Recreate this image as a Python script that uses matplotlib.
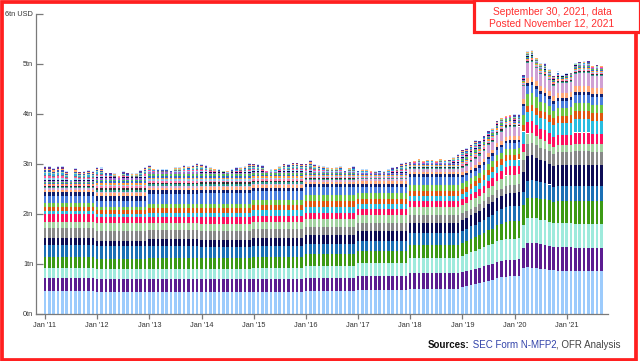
import numpy as np
import matplotlib
matplotlib.use("Agg")
import matplotlib.pyplot as plt
from matplotlib.patches import Rectangle

# ---------------- data (trillions USD, month-end, Jan 2011 .. Sep 2021) ----------------
year_labels = ["Jan '11", "Jan '12", "Jan '13", "Jan '14", "Jan '15", "Jan '16",
               "Jan '17", "Jan '18", "Jan '19", "Jan '20", "Jan '21"]

total = [2.97, 2.97, 2.93, 2.97, 2.97, 2.86, 2.69, 2.93, 2.85, 2.86, 2.89, 2.86,
         2.94, 2.93, 2.83, 2.83, 2.81, 2.76, 2.85, 2.83, 2.81, 2.81, 2.88, 2.95,
         2.97, 2.91, 2.89, 2.89, 2.89, 2.86, 2.93, 2.94, 2.97, 2.96, 2.97, 3.01,
         3.00, 2.98, 2.94, 2.91, 2.89, 2.87, 2.86, 2.89, 2.93, 2.94, 2.96, 3.03,
         3.01, 3.00, 2.97, 2.87, 2.89, 2.91, 2.96, 3.01, 3.00, 3.03, 3.03, 3.01,
         3.01, 3.08, 3.00, 2.98, 2.96, 2.94, 2.93, 2.94, 2.96, 2.86, 2.93, 2.95,
         2.87, 2.89, 2.89, 2.86, 2.85, 2.87, 2.85, 2.89, 2.93, 2.95, 3.03, 3.04,
         3.05, 3.06, 3.11, 3.06, 3.09, 3.09, 3.06, 3.11, 3.09, 3.08, 3.14, 3.19,
         3.29, 3.31, 3.39, 3.47, 3.46, 3.57, 3.66, 3.71, 3.86, 3.93, 3.96, 3.98,
         3.99, 3.99, 4.79, 5.26, 5.28, 5.13, 5.01, 5.01, 4.89, 4.76, 4.85, 4.77,
         4.81, 4.83, 5.01, 5.04, 5.05, 5.06, 4.96, 4.98, 4.96]

# yearly levels 2011-2018, then monthly 2019, 2020, 2021
lb_y = [.46, .45, .45, .45, .45, .46, .48, .51]
lb_19 = [.54, .56, .58, .60, .62, .65, .67, .69, .72, .74, .75, .76]
lb_20 = [.76, .77, .92, .94, .93, .92, .91, .90, .89, .88, .87, .87]
lb_21 = [.87, .87, .86, .86, .86, .86, .86, .86, .86]

pu_y = [.27, .25, .26, .26, .26, .26, .28, .32]
pu_19 = [.31, .31, .31, .31, .31, .31, .32, .32, .33, .33, .33, .33]
pu_20 = [.33, .33, .40, .48, .50, .50, .49, .49, .48, .47, .47, .47]
pu_21 = [.47, .47, .47, .47, .47, .47, .47, .47, .47]

aq_y = [.20, .20, .20, .20, .22, .25, .26, .30]
aq_19 = [.32, .33, .35, .36, .37, .39, .40, .40, .41, .41, .42, .42]
aq_20 = [.42, .42, .46, .50, .50, .50, .49, .49, .48, .47, .48, .48]
aq_21 = [.48, .48, .48, .48, .48, .48, .48, .48, .48]

gr_y = [.21, .20, .21, .22, .22, .24, .24, .26]
gr_19 = [.26, .26, .27, .27, .28, .28, .29, .30, .32, .33, .34, .35]
gr_20 = [.35, .35, .40, .40, .40, .41, .42, .43, .43, .43, .44, .44]
gr_21 = [.44, .44, .45, .45, .45, .45, .45, .45, .45]

bl_y = [.24, .27, .24, .21, .22, .20, .21, .24]
bl_19 = [.24, .24, .25, .25, .26, .26, .27, .28, .29, .29, .30, .30]
bl_20 = [.30, .30, .27, .35, .36, .34, .33, .32, .31, .30, .30, .30]
bl_21 = [.30, .30, .30, .30, .30, .30, .30, .30, .30]

nv_y = [.14, .10, .14, .15, .16, .18, .19, .20]
nv_19 = [.21, .22, .22, .23, .23, .24, .25, .25, .26, .26, .27, .27]
nv_20 = [.27, .27, .40, .50, .50, .46, .44, .43, .42, .41, .42, .42]
nv_21 = [.42, .42, .43, .43, .43, .43, .42, .42, .42]

gy_y = [.20, .20, .18, .18, .17, .15, .16, .15]
gy_19 = [.14, .14, .13, .13, .13, .13, .14, .14, .15, .15, .16, .16]
gy_20 = [.16, .16, .23, .24, .24, .25, .25, .25, .25, .25, .26, .26]
gy_21 = [.26, .26, .27, .27, .27, .27, .27, .27, .27]

lg_y = [.13, .15, .14, .14, .15, .17, .16, .16]
lg_19 = [.16, .16, .17, .17, .17, .17, .18, .18, .19, .19, .20, .20]
lg_20 = [.20, .20, .17, .20, .20, .18, .17, .16, .15, .14, .14, .14]
lg_21 = [.14, .14, .15, .15, .15, .15, .15, .15, .15]

pk_y = [.16, .12, .13, .13, .12, .11, .12, .12]
pk_19 = [.12, .12, .12, .13, .13, .13, .14, .15, .16, .16, .17, .17]
pk_20 = [.17, .17, .16, .23, .23, .22, .21, .21, .21, .20, .21, .21]
pk_21 = [.21, .21, .22, .22, .22, .22, .21, .21, .21]

cy_y = [.05, .06, .08, .09, .11, .12, .10, .10]
cy_19 = [.10, .10, .11, .11, .12, .12, .12, .12, .12, .12, .12, .12]
cy_20 = [.12, .12, .24, .20, .20, .21, .21, .22, .22, .22, .23, .23]
cy_21 = [.23, .24, .26, .26, .26, .26, .25, .25, .25]

or_y = [.08, .08, .09, .10, .11, .12, .10, .10]
or_19 = [.10, .10, .10, .10, .10, .10, .10, .10, .11, .11, .11, .11]
or_20 = [.11, .11, .13, .13, .13, .14, .14, .14, .14, .14, .15, .15]
or_21 = [.15, .15, .17, .17, .17, .17, .17, .17, .17]

g2_y = [.09, .07, .08, .08, .10, .12, .12, .12]
g2_19 = [.11, .11, .11, .11, .11, .11, .11, .12, .12, .12, .12, .12]
g2_20 = [.12, .12, .20, .24, .24, .21, .19, .18, .17, .16, .16, .16]
g2_21 = [.16, .16, .17, .17, .17, .17, .16, .16, .16]

b2_y = [.13, .12, .20, .22, .18, .16, .13, .15]
b2_19 = [.13, .12, .11, .10, .10, .10, .10, .11, .11, .12, .12, .12]
b2_20 = [.12, .12, .17, .16, .16, .16, .15, .15, .15, .14, .14, .14]
b2_21 = [.14, .14, .16, .16, .16, .16, .15, .15, .15]

n2_y = [.08, .10, .08, .06, .06, .06, .06, .06]
n2_19 = [.05, .05, .05, .05, .05, .05, .05, .05, .05, .05, .05, .05]
n2_20 = [.05, .05, .06, .06, .06, .06, .06, .06, .06, .06, .06, .06]
n2_21 = [.06, .06, .06, .06, .06, .06, .06, .06, .06]

pe_y = [.05, .05, .05, .05, .05, .05, .05, .05]
pe_19 = [.05, .05, .06, .06, .06, .07, .07, .07, .08, .08, .08, .08]
pe_20 = [.08, .08, .09, .10, .10, .10, .10, .10, .10, .10, .10, .10]
pe_21 = [.10, .10, .12, .12, .12, .12, .12, .12, .12]

li_y = [.03, .03, .03, .03, .03, .03, .04, .06]
li_19 = [.08, .09, .10, .12, .13, .15, .16, .16, .17, .18, .18, .18]
li_20 = [.18, .18, .26, .30, .30, .26, .24, .24, .22, .20, .20, .20]
li_21 = [.20, .20, .24, .25, .25, .25, .24, .24, .24]

# many small issuers at the top (level per year 2011..2021, each)
minor_each_by_year = [.017, .034, .034, .032, .029, .019, .015, .015, .025, .015, .020]
months_in_year = [12] * 10 + [9]

main_colors = ["#9ccbfc", "#5b1d91", "#9eeadc", "#3c9a15", "#1b70b5", "#0d0d55",
               "#888888", "#a3d3a0", "#ff1060", "#29bde0", "#e0560f", "#6cc644",
               "#4a7fde", "#102070", "#ffa878", "#cfa0d4"]
minor_colors = ["#2a9d8f", "#333333", "#ff77aa", "#88ccee", "#ff9933",
                "#3366cc", "#55bb55", "#9966cc"]
# remaining funds are drawn as thin multicoloured stripes, like the source
other_colors = ["#0d0d55", "#88ccee", "#ff5599", "#777777", "#33aadd",
                "#9fd39f", "#3355bb", "#ffaa66", "#663399", "#bbddff"]


def build(yearly, m19, m20, m21):
    out = []
    for v in yearly:
        out += [v] * 12
    return out + m19 + m20 + m21


main_series = [
    build(lb_y, lb_19, lb_20, lb_21), build(pu_y, pu_19, pu_20, pu_21),
    build(aq_y, aq_19, aq_20, aq_21), build(gr_y, gr_19, gr_20, gr_21),
    build(bl_y, bl_19, bl_20, bl_21), build(nv_y, nv_19, nv_20, nv_21),
    build(gy_y, gy_19, gy_20, gy_21), build(lg_y, lg_19, lg_20, lg_21),
    build(pk_y, pk_19, pk_20, pk_21), build(cy_y, cy_19, cy_20, cy_21),
    build(or_y, or_19, or_20, or_21), build(g2_y, g2_19, g2_20, g2_21),
    build(b2_y, b2_19, b2_20, b2_21), build(n2_y, n2_19, n2_20, n2_21),
    build(pe_y, pe_19, pe_20, pe_21), build(li_y, li_19, li_20, li_21),
]
minor = []
for v, n in zip(minor_each_by_year, months_in_year):
    minor += [v] * n

n_months = len(total)
x = np.arange(n_months)

# ---------------- figure ----------------
W, H = 640, 361
fig = plt.figure(figsize=(W / 100, H / 100), dpi=100)
fig.patch.set_facecolor("white")


def fx(px):
    return px / W


def fy(py):
    return 1 - py / H


ax = fig.add_axes([fx(36), fy(314), fx(608) - fx(36), fy(14) - fy(314)])
ax.set_xlim(-2.07, 129.5)
ax.set_ylim(0, 6)

bottom = np.zeros(n_months)
bw = 0.6
for vals, c in zip(main_series, main_colors):
    v = np.array(vals)
    ax.bar(x, v, bottom=bottom, width=bw, color=c, linewidth=0)
    bottom += v
for c in minor_colors:
    v = np.array(minor)
    ax.bar(x, v, bottom=bottom, width=bw, color=c, linewidth=0)
    bottom += v
other = np.clip(np.array(total) - bottom, 0, None)
k = len(other_colors)
for c in other_colors:
    ax.bar(x, other / k, bottom=bottom, width=bw, color=c, linewidth=0)
    bottom += other / k

for s in ["top", "right"]:
    ax.spines[s].set_visible(False)
for s in ["left", "bottom"]:
    ax.spines[s].set_color("#7a7a7a")
    ax.spines[s].set_linewidth(0.9)

ax.set_yticks(range(7))
ax.set_yticklabels(["0tn", "1tn", "2tn", "3tn", "4tn", "5tn", "6tn USD"])
ax.set_xticks(np.arange(0, 121, 12))
ax.set_xticklabels(year_labels)
ax.tick_params(axis="y", direction="in", length=5, width=0.9, color="#7a7a7a",
               labelsize=5.3, labelcolor="#333333", pad=2)
ax.tick_params(axis="x", direction="out", length=3.5, width=0.9, color="#7a7a7a",
               labelsize=5.3, labelcolor="#333333", pad=2)
for lab in ax.get_xticklabels() + ax.get_yticklabels():
    lab.set_fontfamily("Liberation Sans")

# red frame around the whole picture
fig.patches.append(Rectangle((fx(1.8), fy(359.8)), fx(636) - fx(1.8), fy(1.8) - fy(359.8),
                             transform=fig.transFigure, fill=False,
                             edgecolor="#ff2020", linewidth=2.7, zorder=10))
# red note box at top right
fig.patches.append(Rectangle((fx(473.5), fy(31.5)), fx(640) - fx(473.5), fy(0) - fy(31.5),
                             transform=fig.transFigure, facecolor="white",
                             edgecolor="#ff2020", linewidth=2.3, zorder=11))
fig.text(fx(552), fy(12), "September 30, 2021, data", ha="center", va="center",
         fontsize=7.4, color="#ff3030", family="Liberation Sans", zorder=12)
fig.text(fx(552), fy(24), "Posted November 12, 2021", ha="center", va="center",
         fontsize=7.4, color="#ff3030", family="Liberation Sans", zorder=12)

# sources line, right aligned to x=621
fig.canvas.draw()
r = fig.canvas.get_renderer()
parts = [("Sources:", "bold", "#111111"), (" SEC Form N-MFP2", "normal", "#3344aa"),
         (", OFR Analysis", "normal", "#444444")]
texts = []
for s, wgt, col in parts:
    t = fig.text(0, fy(345), s, fontsize=7.0, fontweight=wgt, color=col,
                 family="Liberation Sans", va="center", ha="left")
    texts.append(t)
widths = [t.get_window_extent(r).width for t in texts]
xpos = 621 - sum(widths)
for t, w in zip(texts, widths):
    t.set_x(fx(xpos))
    xpos += w

fig.savefig("out.png", dpi=100, facecolor="white")
